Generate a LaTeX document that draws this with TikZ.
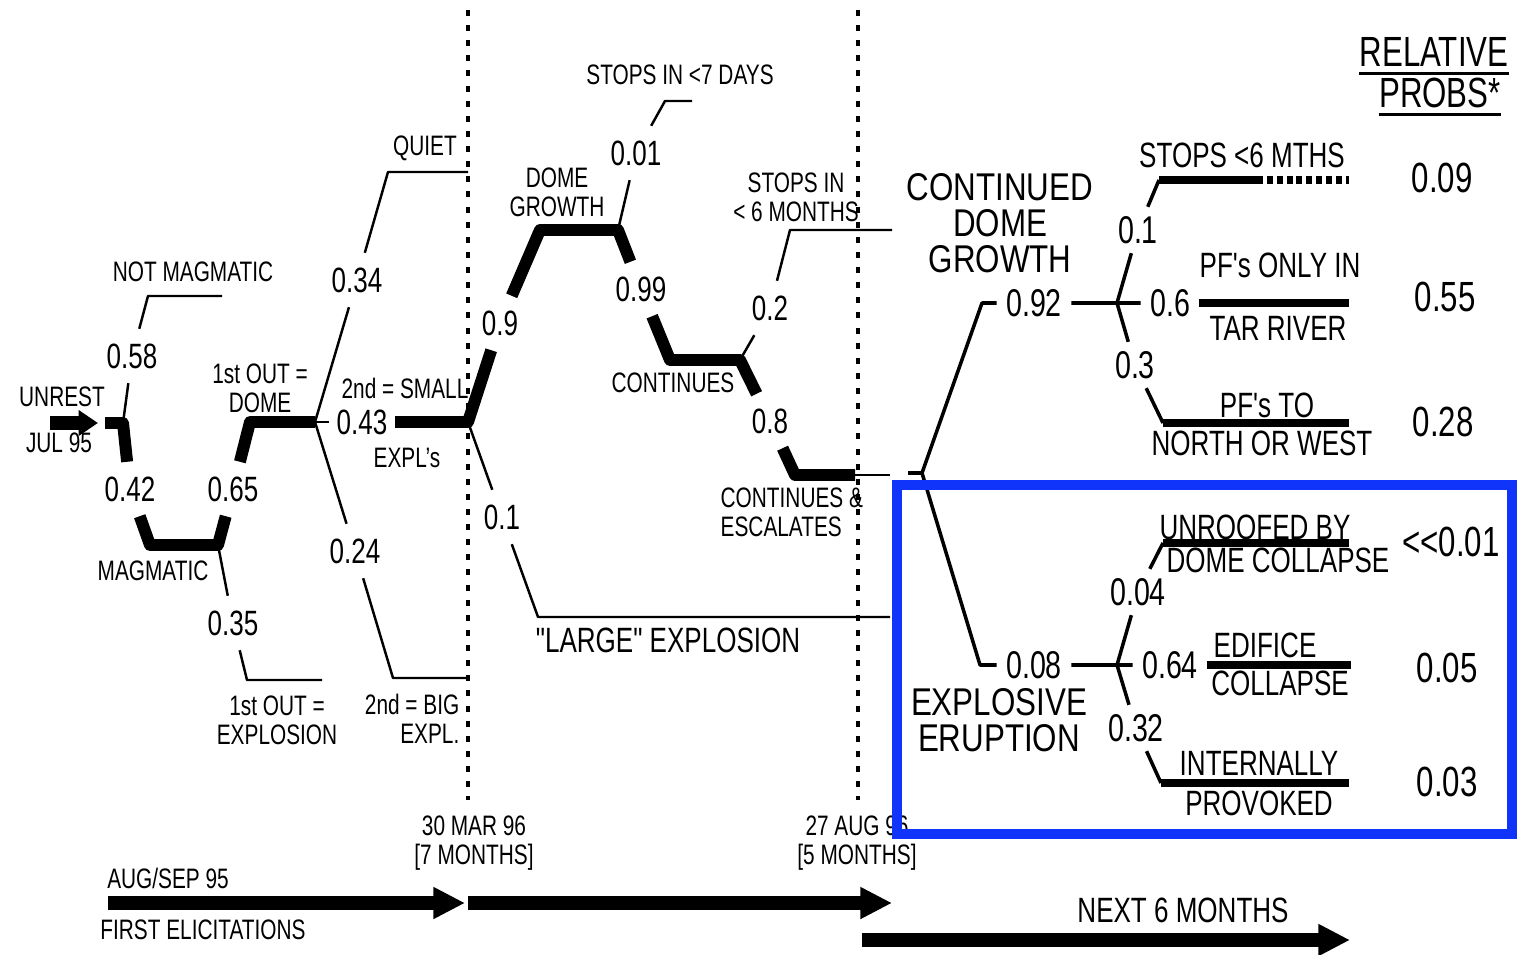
\documentclass[tikz,border=0pt]{standalone}
\usepackage{fontspec}
\setmainfont{Liberation Sans}[FakeStretch=0.74, Ligatures=TeXOff]
\newfontfamily\widefont{Liberation Sans}[FakeStretch=0.81, Ligatures=TeXOff]
\usetikzlibrary{arrows.meta}
\definecolor{boxblue}{RGB}{16,52,250}

\begin{document}
\begin{tikzpicture}[x=0.01cm, y=-0.01cm,
  prob/.style={font=\fontsize{10}{10}\selectfont, inner xsep=2pt, inner ysep=4pt},
  probr/.style={font=\fontsize{11}{11}\selectfont, inner xsep=2.5pt, inner ysep=2.5pt},
  relprob/.style={font=\fontsize{12}{12}\selectfont, inner sep=0pt},
  lbl/.style={font=\fontsize{8}{8.2}\selectfont, align=center, inner sep=0pt},
  lblr/.style={font=\fontsize{10}{10}\selectfont, inner sep=0pt},
  biglbl/.style={font=\widefont\fontsize{11}{10.2}\selectfont, align=center, inner sep=0pt},
  branch/.style={line width=0.7pt, line join=round},
  mainbranch/.style={line width=3.4pt, line join=round},
  midbranch/.style={line width=1pt, line join=round},
  endbar/.style={line width=2pt},
  timeline/.style={line width=0.9pt, dash pattern=on 1.7pt off 2.6pt},
  bigarrow/.style={line width=4.2pt, -{Triangle[width=8.5pt, length=9pt]}},
  ]
  \useasboundingbox (0,0) rectangle (1531,955);

  % Corners and ends of the branches
  \coordinate (s0) at (105,423);  \coordinate (j0) at (123,423);
  \coordinate (c058) at (148,296); \coordinate (e058) at (222,296);
  \coordinate (c042) at (150,545); \coordinate (jm) at (218,545);
  \coordinate (c035) at (247,680); \coordinate (e035) at (322,680);
  \coordinate (c065) at (250,422); \coordinate (j2) at (315,422);
  \coordinate (c034) at (388,172); \coordinate (e034) at (468,172);
  \coordinate (c024) at (393,678); \coordinate (e024) at (468,678);
  \coordinate (j3) at (468,422);
  \coordinate (c09) at (540,230);  \coordinate (j4) at (618,230);
  \coordinate (c001) at (665,101); \coordinate (e001) at (692,101);
  \coordinate (c099) at (670,360); \coordinate (j5) at (740,360);
  \coordinate (c02) at (790,230);  \coordinate (e02) at (892,230);
  \coordinate (c08) at (795,475);  \coordinate (e08) at (855,475);
  \coordinate (e08b) at (890,475);
  \coordinate (c01) at (538,617);  \coordinate (e01) at (890,617);
  \coordinate (s6) at (908,473);   \coordinate (j6) at (922,473);
  \coordinate (c092) at (982,303); \coordinate (j7) at (1117,303);
  \coordinate (e06) at (1349,303);
  \coordinate (c01r) at (1159,180); \coordinate (m01r) at (1257,180);
  \coordinate (e01r) at (1349,180);
  \coordinate (c03) at (1163,423); \coordinate (e03) at (1349,423);
  \coordinate (c008) at (980,665); \coordinate (j8) at (1117,665);
  \coordinate (e064) at (1351,665);
  \coordinate (c004) at (1163,543); \coordinate (e004) at (1349,543);
  \coordinate (c032) at (1161,783); \coordinate (e032) at (1349,783);

  % Nodes
  \node[prob] (p058) at (132,356) {0.58};
  \node[prob] (p042) at (130,489) {0.42};
  \node[prob] (p065) at (233,489) {0.65};
  \node[prob] (p035) at (233,623) {0.35};
  \node[prob] (p034) at (357,280) {0.34};
  \node[prob] (p043) at (362,422) {0.43};
  \node[prob] (p024) at (355,551) {0.24};
  \node[prob] (p09) at (500,323) {0.9};
  \node[prob] (p001) at (636,153) {0.01};
  \node[prob] (p099) at (641,289) {0.99};
  \node[prob] (p02) at (770,308) {0.2};
  \node[prob] (p08) at (770,421) {0.8};
  \node[prob] (p01) at (502,517) {0.1};
  \node[probr] (p092) at (1034,303) {0.92};
  \node[probr] (p06) at (1170,303) {0.6};
  \node[probr] (p01r) at (1138,230) {0.1};
  \node[probr] (p03) at (1135,365) {0.3};
  \node[probr] (p008) at (1034,665) {0.08};
  \node[probr] (p064) at (1170,665) {0.64};
  \node[probr] (p004) at (1138,592) {0.04};
  \node[probr] (p032) at (1136,728) {0.32};

  \node[lbl] (unrest) at (62,397) {UNREST};
  \node[lbl] (jul) at (59,443) {JUL 95};
  \node[lbl] (notmag) at (193,272) {NOT MAGMATIC};
  \node[lbl] (mag) at (153,571) {MAGMATIC};
  \node[lbl] (outdome) at (260,388) {1st OUT =\\DOME};
  \node[lbl] (outexpl) at (277,720) {1st OUT =\\EXPLOSION};
  \node[lbl] (quiet) at (425,148) {QUIET};
  \node[lbl] (small) at (405,388) {2nd = SMALL};
  \node[lbl] (expls) at (407,458) {EXPL’s};
  \node[lbl, align=right, anchor=east] (big) at (460,719) {2nd = BIG\\EXPL.};
  \node[lbl] (days) at (680,75) {STOPS IN <7 DAYS};
  \node[lbl] (domegr) at (557,192) {DOME\\GROWTH};
  \node[lbl] (cont) at (673,383) {CONTINUES};
  \node[lbl] (sixmon) at (796,197) {STOPS IN\\< 6 MONTHS};
  \node[lbl, align=left, anchor=west] (escal) at (720,512) {CONTINUES \&\\ESCALATES};
  \node[lblr] (large) at (668,640) {"LARGE" EXPLOSION};
  \node[biglbl] (contdome) at (1000,223) {CONTINUED\\DOME\\GROWTH};
  \node[biglbl] (erupt) at (999,720) {EXPLOSIVE\\ERUPTION};
  \node[lblr] (stops) at (1242,155) {STOPS <6 MTHS};
  \node[lblr] (pfonly) at (1280,265) {PF's ONLY IN};
  \node[lblr] (tar) at (1278,328) {TAR RIVER};
  \node[lblr] (pfto) at (1267,405) {PF's TO};
  \node[lblr] (north) at (1262,443) {NORTH OR WEST};
  \node[lblr] (unroof) at (1255,527) {UNROOFED BY};
  \node[lblr] (domecol) at (1278,560) {DOME COLLAPSE};
  \node[lblr] (edifice) at (1265,645) {EDIFICE};
  \node[lblr] (collapse) at (1280,683) {COLLAPSE};
  \node[lblr] (intern) at (1259,763) {INTERNALLY};
  \node[lblr] (provoked) at (1259,803) {PROVOKED};

  % relative probabilities column
  \node[relprob] (rel) at (1434,52) {RELATIVE};
  \node[relprob] (probs) at (1440,93) {PROBS*};
  \draw[line width=0.8pt] ([yshift=-2pt]rel.base west) -- ([yshift=-2pt]rel.base east);
  \draw[line width=0.8pt] ([yshift=-2pt]probs.base west) -- ([yshift=-2pt]probs.base east);
  \node[relprob] (r1) at (1442,178) {0.09};
  \node[relprob] (r2) at (1445,297) {0.55};
  \node[relprob] (r3) at (1443,422) {0.28};
  \node[relprob] (r4) at (1451,542) {<<0.01};
  \node[relprob] (r5) at (1447,668) {0.05};
  \node[relprob] (r6) at (1447,782) {0.03};

  % time axis
  \node[lbl] (mar) at (474,843) {30 MAR 96\\{[7 MONTHS]}};
  \node[lbl] (aug) at (857,843) {27 AUG 96\\{[5 MONTHS]}};
  \node[lbl] (augsep) at (168,878) {AUG/SEP 95};
  \node[lbl] (first) at (203,930) {FIRST ELICITATIONS};
  \node[lblr] (next) at (1183,910) {NEXT 6 MONTHS};

  \coordinate (t1top) at (468,10); \coordinate (t1bot) at (468,800);
  \coordinate (t2top) at (858,10); \coordinate (t2bot) at (858,800);
  \draw[timeline] (t1top) -- (t1bot);
  \draw[timeline] (t2top) -- (t2bot);

  \coordinate (ua1) at (50,423);   \coordinate (ua2) at (98,423);
  \coordinate (a1s) at (108,903);  \coordinate (a1e) at (465,903);
  \coordinate (a2s) at (468,903);  \coordinate (a2e) at (892,903);
  \coordinate (a3s) at (862,940);  \coordinate (a3e) at (1350,940);
  \draw[line width=3.8pt, -{Triangle[width=7pt, length=5.5pt]}] (ua1) -- (ua2);
  \draw[bigarrow] (a1s) -- (a1e);
  \draw[bigarrow] (a2s) -- (a2e);
  \draw[bigarrow] (a3s) -- (a3e);

  % first and second stage
  \draw[mainbranch] (s0) -- (j0) -- (p042);
  \draw[mainbranch] (p042) -- (c042) -- (jm) -- (p065);
  \draw[mainbranch] (p065) -- (c065) -- (j2);
  \draw[branch] (j0) -- (p058) -- (c058) -- (e058);
  \draw[branch] (jm) -- (p035) -- (c035) -- (e035);
  \draw[branch] (j2) -- (p034) -- (c034) -- (e034);
  \draw[branch] (j2) -- (p024) -- (c024) -- (e024);
  \draw[branch] (j2) -- (p043);

  % up to 27 Aug
  \draw[mainbranch] (p043) -- (j3) -- (p09);
  \draw[mainbranch] (p09) -- (c09) -- (j4) -- (p099);
  \draw[mainbranch] (p099) -- (c099) -- (j5) -- (p08);
  \draw[mainbranch] (p08) -- (c08) -- (e08);
  \draw[branch] (e08) -- (e08b);
  \draw[branch] (j3) -- (p01) -- (c01) -- (e01);
  \draw[branch] (j4) -- (p001) -- (c001) -- (e001);
  \draw[branch] (j5) -- (p02) -- (c02) -- (e02);

  % next 6 months
  \draw[midbranch] (s6) -- (j6);
  \draw[midbranch] (j6) -- (c092) -- (p092) -- (j7) -- (p06);
  \draw[endbar] (p06) -- (e06);
  \draw[midbranch] (j7) -- (p01r) -- (c01r);
  \draw[endbar, line join=round] (c01r) -- (m01r);
  \draw[endbar, dash pattern=on 1.7pt off 1.1pt] (m01r) -- (e01r);
  \draw[midbranch] (j7) -- (p03) -- (c03);
  \draw[endbar] (c03) -- (e03);
  \draw[midbranch] (j6) -- (c008) -- (p008) -- (j8) -- (p064);
  \draw[endbar] (p064) -- (e064);
  \draw[midbranch] (j8) -- (p004) -- (c004);
  \draw[endbar] (c004) -- (e004);
  \draw[midbranch] (j8) -- (p032) -- (c032);
  \draw[endbar] (c032) -- (e032);

  \coordinate (boxnw) at (897,485); \coordinate (boxse) at (1512,834);
  \draw[boxblue, line width=2.6pt] (boxnw) rectangle (boxse);

\end{tikzpicture}
\end{document}
